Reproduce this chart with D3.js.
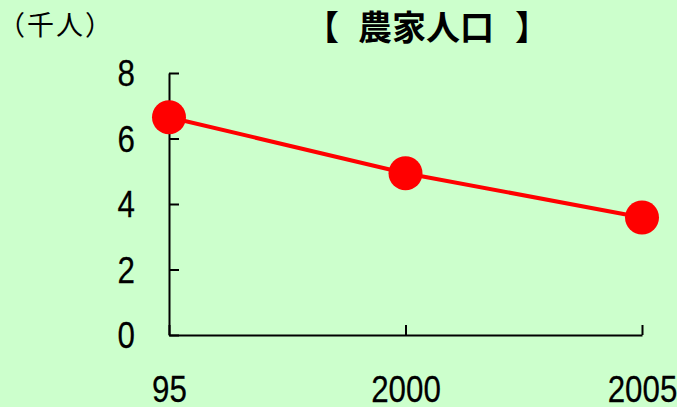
<!DOCTYPE html>
<html>
<head>
<meta charset="utf-8">
<script src="https://cdn.jsdelivr.net/npm/d3@7"></script>
<style>
  html, body { margin: 0; padding: 0; background: #ccffcc; }
  svg { display: block; }
</style>
</head>
<body>
<svg id="chart" width="677" height="407"></svg>
<script>
const categories = ["95", "2000", "2005"];
const values = [6.65, 4.94, 3.59];
const yTicks = [0, 2, 4, 6, 8];
const titleLeft = "【";
const titleMain = "農家人口";
const titleRight = "】";
const unitText = "（千人）";

const NUM_FONT = "'Liberation Sans', Arial, sans-serif";
const NUM_SIZE = 36;
const SX = 0.87;

const svg = d3.select("#chart");
svg.append("rect").attr("width", 677).attr("height", 407).attr("fill", "#ccffcc");

const x = d3.scalePoint().domain(categories).range([169, 642]).padding(0);
const y = d3.scaleLinear().domain([0, 8]).range([335, 73]);

function styleNums(sel) {
  sel.attr("font-family", NUM_FONT).attr("font-size", NUM_SIZE)
    .attr("fill", "#000").attr("stroke", "#000").attr("stroke-width", 0.25)
    .attr("transform", `scale(${SX},1)`);
}

// Y axis
const yAxis = svg.append("g")
  .attr("transform", "translate(169,0)")
  .call(d3.axisLeft(y).tickValues(yTicks).tickSizeInner(-10).tickSizeOuter(0).tickPadding(34).tickFormat(d3.format("d")));
yAxis.attr("font-family", null).attr("font-size", null);
yAxis.selectAll("path, line").attr("stroke", "#000").attr("stroke-width", 2);
yAxis.selectAll("text").call(styleNums)
  .attr("x", -34 / SX).attr("dy", "0.36em");

// X axis
const xAxis = svg.append("g")
  .attr("transform", "translate(0,335)")
  .call(d3.axisBottom(x).tickSizeInner(-10).tickSizeOuter(0).tickPadding(43));
xAxis.attr("font-family", null).attr("font-size", null);
xAxis.selectAll("path, line").attr("stroke", "#000").attr("stroke-width", 2);
xAxis.selectAll("text").call(styleNums)
  .attr("y", 67).attr("dy", 0);

// Line
const data = categories.map((c, i) => ({ c, v: values[i] }));
svg.append("path")
  .datum(data)
  .attr("fill", "none")
  .attr("stroke", "#ff0000")
  .attr("stroke-width", 4)
  .attr("d", d3.line().x(d => x(d.c)).y(d => y(d.v)));

svg.selectAll("circle.pt")
  .data(data)
  .join("circle")
  .attr("class", "pt")
  .attr("cx", d => x(d.c))
  .attr("cy", d => y(d.v))
  .attr("r", 17)
  .attr("fill", "#ff0000");

// Title
const tg = svg.append("g")
  .attr("font-family", "'Noto Sans CJK JP', sans-serif")
  .attr("font-weight", "bold")
  .attr("font-size", 34)
  .attr("fill", "#000");
tg.append("text").attr("x", 339).attr("y", 40).attr("text-anchor", "end").text(titleLeft);
tg.append("text").attr("x", 426).attr("y", 40).attr("text-anchor", "middle").text(titleMain);
tg.append("text").attr("x", 515).attr("y", 40).attr("text-anchor", "start").text(titleRight);

// Unit label
svg.append("text")
  .attr("x", -2)
  .attr("y", 35)
  .attr("font-family", "'Noto Sans CJK JP', sans-serif")
  .attr("font-size", 27)
  .attr("letter-spacing", 2)
  .attr("fill", "#000")
  .text(unitText);
</script>
</body>
</html>
